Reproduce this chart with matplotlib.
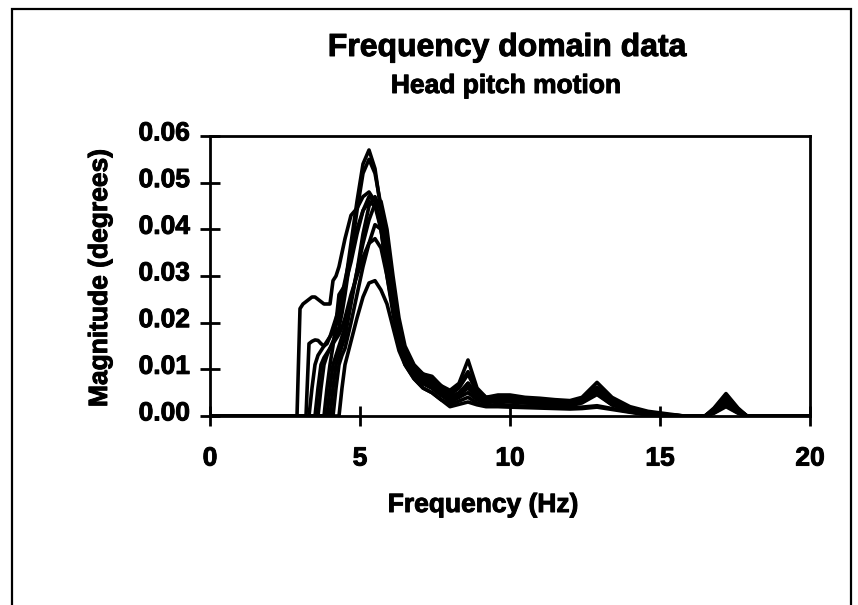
import matplotlib
matplotlib.use('Agg')
import matplotlib.pyplot as plt
from matplotlib.patches import Rectangle
import matplotlib.transforms as mtransforms
import matplotlib.patheffects as pe

plt.rcParams['font.family'] = ['Liberation Sans', 'DejaVu Sans']
plt.rcParams['font.weight'] = 'bold'

# ---------------- data ----------------
freq = [0, 2.9,
        3.0, 3.1, 3.2, 3.3, 3.4, 3.5, 3.6, 3.7,
        3.8, 3.9, 4.0, 4.1, 4.2, 4.3, 4.4, 4.5,
        4.7, 4.9, 5.1, 5.3, 5.5, 5.7, 5.9, 6.1,
        6.3, 6.5, 6.8, 7.1, 7.4, 7.7, 8.0, 8.3,
        8.6, 8.9, 9.2, 9.6, 10.0, 10.5, 11.0, 11.5,
        12.0, 12.4, 12.9, 13.4, 14.0, 14.6, 15.2, 15.8,
        16.5, 16.8, 17.2, 17.6, 17.9, 18.5, 20.0]

mag_a = [0, 0,
         0.0230, 0.0240, 0.0245, 0.0250, 0.0255, 0.0255, 0.0250, 0.0245,
         0.0240, 0.0240, 0.0240, 0.0290, 0.0300, 0.0320, 0.0350, 0.0380,
         0.0430, 0.0445, 0.0470, 0.0480, 0.0460, 0.0410, 0.0320, 0.0240,
         0.0160, 0.0125, 0.0090, 0.0070, 0.0060, 0.0045, 0.0035, 0.0040,
         0.0070, 0.0040, 0.0030, 0.0032, 0.0031, 0.0028, 0.0026, 0.0024,
         0.0022, 0.0028, 0.0046, 0.0024, 0.0011, 0.0004, 0, 0,
         0, 0.0010, 0.0030, 0.0010, 0, 0, 0]

mag_b = [0, 0,
         0, 0, 0, 0.0155, 0.0160, 0.0163, 0.0162, 0.0155,
         0.0150, 0.0155, 0.0170, 0.0190, 0.0210, 0.0230, 0.0260, 0.0290,
         0.0350, 0.0400, 0.0440, 0.0460, 0.0450, 0.0400, 0.0300, 0.0220,
         0.0150, 0.0110, 0.0080, 0.0060, 0.0050, 0.0035, 0.0025, 0.0032,
         0.0040, 0.0028, 0.0022, 0.0025, 0.0023, 0.0021, 0.0020, 0.0019,
         0.0018, 0.0019, 0.0022, 0.0016, 0.0009, 0.0003, 0, 0,
         0, 0.0007, 0.0022, 0.0007, 0, 0, 0]

mag_c = [0, 0,
         0, 0, 0, 0, 0.0060, 0.0110, 0.0130, 0.0140,
         0.0150, 0.0160, 0.0170, 0.0180, 0.0195, 0.0210, 0.0240, 0.0280,
         0.0370, 0.0460, 0.0540, 0.0570, 0.0530, 0.0440, 0.0340, 0.0250,
         0.0170, 0.0135, 0.0105, 0.0090, 0.0085, 0.0065, 0.0055, 0.0070,
         0.0120, 0.0060, 0.0040, 0.0045, 0.0045, 0.0040, 0.0038, 0.0035,
         0.0033, 0.0040, 0.0072, 0.0040, 0.0020, 0.0010, 0.0005, 0,
         0, 0.0017, 0.0048, 0.0017, 0, 0, 0]

mag_d = [0, 0,
         0, 0, 0, 0, 0, 0, 0, 0.0060,
         0.0110, 0.0130, 0.0145, 0.0160, 0.0175, 0.0190, 0.0220, 0.0260,
         0.0350, 0.0440, 0.0520, 0.0550, 0.0520, 0.0450, 0.0360, 0.0270,
         0.0190, 0.0140, 0.0100, 0.0085, 0.0075, 0.0060, 0.0050, 0.0065,
         0.0095, 0.0055, 0.0040, 0.0042, 0.0042, 0.0038, 0.0035, 0.0033,
         0.0030, 0.0038, 0.0062, 0.0035, 0.0018, 0.0008, 0.0003, 0,
         0, 0.0015, 0.0045, 0.0015, 0, 0, 0]

mag_e = [0, 0,
         0, 0, 0, 0, 0, 0, 0, 0,
         0, 0.0060, 0.0110, 0.0150, 0.0200, 0.0260, 0.0270, 0.0280,
         0.0330, 0.0390, 0.0440, 0.0470, 0.0460, 0.0400, 0.0310, 0.0230,
         0.0160, 0.0120, 0.0090, 0.0075, 0.0065, 0.0050, 0.0035, 0.0045,
         0.0070, 0.0042, 0.0032, 0.0036, 0.0035, 0.0032, 0.0030, 0.0028,
         0.0026, 0.0033, 0.0050, 0.0028, 0.0014, 0.0006, 0.0002, 0,
         0, 0.0012, 0.0035, 0.0012, 0, 0, 0]

mag_f = [0, 0,
         0, 0, 0, 0, 0, 0, 0, 0,
         0, 0, 0, 0.0060, 0.0110, 0.0130, 0.0150, 0.0170,
         0.0240, 0.0310, 0.0390, 0.0450, 0.0470, 0.0440, 0.0350, 0.0260,
         0.0180, 0.0130, 0.0095, 0.0080, 0.0070, 0.0055, 0.0040, 0.0050,
         0.0070, 0.0045, 0.0034, 0.0038, 0.0038, 0.0034, 0.0032, 0.0030,
         0.0028, 0.0034, 0.0052, 0.0030, 0.0015, 0.0007, 0.0002, 0,
         0, 0.0013, 0.0038, 0.0013, 0, 0, 0]

mag_g = [0, 0,
         0, 0, 0, 0, 0, 0, 0, 0,
         0, 0, 0, 0, 0.0060, 0.0110, 0.0130, 0.0145,
         0.0200, 0.0260, 0.0320, 0.0370, 0.0410, 0.0400, 0.0330, 0.0240,
         0.0170, 0.0125, 0.0090, 0.0070, 0.0060, 0.0045, 0.0035, 0.0045,
         0.0060, 0.0040, 0.0030, 0.0034, 0.0033, 0.0030, 0.0028, 0.0026,
         0.0025, 0.0032, 0.0050, 0.0026, 0.0013, 0.0005, 0, 0,
         0, 0.0009, 0.0028, 0.0009, 0, 0, 0]

mag_h = [0, 0,
         0, 0, 0, 0, 0, 0, 0, 0,
         0, 0, 0, 0, 0, 0, 0.0060, 0.0110,
         0.0160, 0.0210, 0.0255, 0.0285, 0.0290, 0.0270, 0.0240, 0.0190,
         0.0140, 0.0110, 0.0080, 0.0060, 0.0050, 0.0035, 0.0020, 0.0025,
         0.0030, 0.0024, 0.0020, 0.0020, 0.0019, 0.0018, 0.0017, 0.0016,
         0.0015, 0.0016, 0.0019, 0.0014, 0.0008, 0.0002, 0, 0,
         0, 0.0006, 0.0020, 0.0006, 0, 0, 0]

mag_i = [0, 0,
         0, 0, 0, 0, 0, 0, 0.0060, 0.0110,
         0.0125, 0.0135, 0.0145, 0.0155, 0.0165, 0.0175, 0.0190, 0.0210,
         0.0260, 0.0300, 0.0340, 0.0370, 0.0380, 0.0360, 0.0300, 0.0230,
         0.0160, 0.0120, 0.0085, 0.0070, 0.0060, 0.0045, 0.0030, 0.0040,
         0.0050, 0.0035, 0.0028, 0.0032, 0.0030, 0.0028, 0.0026, 0.0024,
         0.0023, 0.0030, 0.0048, 0.0024, 0.0012, 0.0005, 0, 0,
         0, 0.0008, 0.0025, 0.0008, 0, 0, 0]

mag_j = [0, 0,
         0, 0, 0, 0, 0, 0, 0, 0,
         0, 0, 0.0060, 0.0110, 0.0130, 0.0150, 0.0170, 0.0190,
         0.0250, 0.0310, 0.0370, 0.0420, 0.0455, 0.0460, 0.0400, 0.0300,
         0.0210, 0.0150, 0.0110, 0.0090, 0.0080, 0.0065, 0.0045, 0.0060,
         0.0090, 0.0050, 0.0036, 0.0040, 0.0040, 0.0036, 0.0033, 0.0032,
         0.0030, 0.0036, 0.0055, 0.0032, 0.0016, 0.0008, 0.0003, 0,
         0, 0.0014, 0.0042, 0.0014, 0, 0, 0]

series = [mag_a, mag_b, mag_c, mag_d, mag_e, mag_f, mag_g, mag_h, mag_i, mag_j]

x_ticks = [0, 5, 10, 15, 20]
x_tick_labels = ['0', '5', '10', '15', '20']
y_ticks = [0.00, 0.01, 0.02, 0.03, 0.04, 0.05, 0.06]
y_tick_labels = ['0.00', '0.01', '0.02', '0.03', '0.04', '0.05', '0.06']

title = 'Frequency domain data'
subtitle = 'Head pitch motion'
x_label = 'Frequency (Hz)'
y_label = 'Magnitude (degrees)'

# ---------------- figure ----------------
W, H = 858, 605
fig = plt.figure(figsize=(W / 100, H / 100), dpi=100)
fig.patch.set_facecolor('white')

heavy = [pe.withStroke(linewidth=0.7, foreground='black')]

ax = fig.add_axes([210 / W, 1 - 416 / H, 600 / W, 280 / H])
for s in series:
    assert len(s) == len(freq)
    ax.plot(freq, s, color='black', lw=2.6, solid_joinstyle='round',
            solid_capstyle='round')

ax.set_xlim(0, 20)
ax.set_ylim(0, 0.06)
ax.set_xticks(x_ticks)
ax.set_xticklabels(x_tick_labels)
ax.set_yticks(y_ticks)
ax.set_yticklabels(y_tick_labels)

for sp in ax.spines.values():
    sp.set_linewidth(2.0)
    sp.set_color('black')

ax.tick_params(axis='both', direction='inout', length=14, width=2.0,
               labelsize=19, colors='black')
ax.tick_params(axis='y', pad=7.5)
ax.tick_params(axis='x', pad=15)
for lbl in ax.get_xticklabels() + ax.get_yticklabels():
    lbl.set_fontweight('bold')
    lbl.set_path_effects(heavy)

offset = mtransforms.ScaledTranslation(0, 0.05, fig.dpi_scale_trans)
for lbl in ax.get_yticklabels():
    lbl.set_transform(lbl.get_transform() + offset)

fig.text(507 / W, 1 - 48 / H, title, ha='center', va='center',
         fontsize=23, fontweight='bold', path_effects=heavy)
fig.text(506 / W, 1 - 86 / H, subtitle, ha='center', va='center',
         fontsize=19, fontweight='bold', path_effects=heavy)
fig.text(483 / W, 1 - 505 / H, x_label, ha='center', va='center',
         fontsize=19, fontweight='bold', path_effects=heavy)
fig.text(100 / W, 1 - 278 / H, y_label, ha='center', va='center',
         rotation=90, fontsize=19, fontweight='bold', path_effects=heavy)

frame = Rectangle((12 / W, -0.1), (851 - 12) / W, 1.1 - 9 / H,
                  transform=fig.transFigure, fill=False, lw=1.6,
                  edgecolor='black', clip_on=False)
fig.patches.append(frame)

fig.savefig('out.png', dpi=100, facecolor='white')
